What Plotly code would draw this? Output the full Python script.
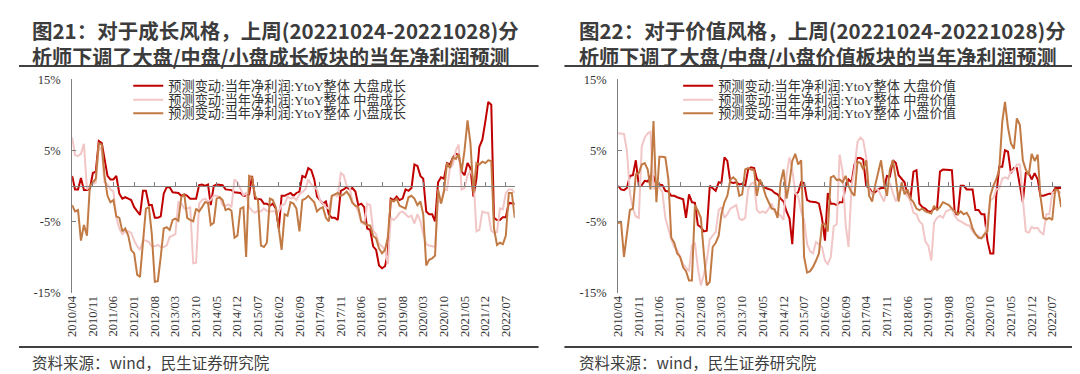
import pandas as pd
import plotly.graph_objects as go

# ---------------- data (monthly readings, 2010/04 .. 2022/10) ----------------
START = "2010-04-01"
N_MONTHS = 151
TICK_LABELS = ["2010/04", "2010/11", "2011/06", "2012/01", "2012/08", "2013/03",
               "2013/10", "2014/05", "2014/12", "2015/07", "2016/02", "2016/09",
               "2017/04", "2017/11", "2018/06", "2019/01", "2019/08", "2020/03",
               "2020/10", "2021/05", "2021/12", "2022/07"]
Y_TICKS = [-15, -5, 5, 15]
Y_TICK_TEXT = ["-15%", "-5%", "5%", "15%"]

growth_large = [
    1.4, -0.5, -0.5, 1.1, -0.6, -0.6, -0.4, 1.8, 2.0, 6.3,
    6.0, 3.6, 1.4, 0.9, 0.9, 1.4, -1.1, -1.8, -1.6, -1.8,
    -2.0, -3.0, -3.6, -4.1, -0.7, -0.7, -2.7, -2.7, -4.5, -4.5,
    -4.3, -1.1, -0.2, -0.2, -0.9, -0.9, -1.0, -1.4, -1.2, -1.4,
    -1.8, -1.8, -1.8, 0.1, 0.2, 0.0, 0.2, -2.7, 0.0, 0.2,
    0.2, 0.1, -0.5, -0.5, -0.6, -0.9, -0.9, -1.0, -1.4, -1.4,
    -1.2, 1.4, -1.8, -1.8, -1.9, -2.5, -2.5, -2.8, -2.5, -3.2,
    -6.0, -1.4, -1.4, -1.2, -1.0, -1.4, -1.0, -0.8, 1.4, 1.2,
    2.5, 2.2, 0.9, -1.5, -2.0, -2.5, -2.2, -4.0, -4.5, -4.5,
    -4.8, -0.7, -0.5, -0.2, -0.5, -0.3, -0.8, -2.7, -2.5, -3.0,
    -6.0, -6.2, -8.5, -9.0, -11.2, -11.6, -11.3, -9.5, -1.8, -2.0,
    -1.5, -2.0, -1.8, -0.5, -0.7, -0.3, 3.0, 2.8, 1.4, 1.0,
    -3.6, -4.0, -4.0, -5.0, 0.5, 1.2, 1.0, 3.2, 3.0, 4.0,
    4.5, 4.4, 2.0, 1.5, 3.2, 2.5, -1.5, 1.0, 5.5, 6.5,
    9.0, 11.8, 11.4, -4.5, -4.8, -4.8, -4.4, -4.4, -2.4, -2.4, -2.5]

growth_mid = [
    6.8, 4.3, 4.2, 4.5, 5.9, -0.5, 0.0, 0.2, 0.5, 5.5,
    5.0, 0.5, 0.2, -0.5, -0.8, -4.5, -6.0, -6.8, -6.4, -6.4,
    -6.6, -7.7, -8.5, -9.0, -7.7, -7.7, -7.9, -8.5, -8.5, -8.3,
    -8.6, -8.6, -8.4, -7.2, -7.0, -6.8, -2.3, -2.5, -3.2, -3.2,
    -3.0, -10.9, -10.8, -2.5, -2.0, -1.8, -2.2, -2.0, -1.4, -1.4,
    -1.6, -2.7, -2.8, -2.6, -3.0, 0.9, 0.5, -0.5, -1.3, -1.0,
    -3.0, -3.5, -3.8, -3.5, -3.6, -3.2, -3.5, -3.6, -3.6, -3.4,
    -3.6, -2.7, -2.6, -1.5, -1.8, -1.6, -2.0, -1.2, -0.9, -0.5,
    0.9, 0.2, -0.2, -0.5, -2.0, -2.5, -3.0, -3.2, -1.4, -1.3,
    -1.5, 1.8, 1.5, 0.0, -0.2, -2.2, -2.8, -3.6, -5.2, -5.4,
    -2.5, -2.7, -6.3, -6.8, -8.2, -8.5, -9.0, -11.0, -4.5, -4.8,
    -4.4, -3.8, -3.6, -4.0, -4.4, -4.2, -5.3, -4.0, -5.0, -6.8,
    -8.2, -8.4, -8.5, -8.6, -2.0, -2.4, -0.5, -0.6, 2.5, 3.0,
    5.0, 5.8, -0.5, -0.3, 1.5, 2.0, 1.2, -6.4, -6.2, -3.6,
    -3.8, -3.8, -6.3, -6.6, -6.5, -3.2, -3.3, -1.0, -0.5, -0.5, -1.0]

growth_small = [
    -2.7, -3.6, -3.4, -7.7, -5.5, -7.0, 0.0, 0.5, 1.0, 6.0,
    5.8, 1.4, -1.4, -2.3, -2.0, -4.3, -4.5, -6.4, -6.0, -7.0,
    -9.0, -9.5, -12.5, -12.8, -7.7, -3.2, -3.0, -6.8, -13.5, -13.4,
    -10.0, -6.0, -5.8, -6.2, -4.8, -4.6, -4.9, -1.6, -1.2, -4.5,
    -4.8, -5.0, -3.2, -3.6, -3.0, -2.3, -2.4, -5.5, -5.2, -1.8,
    -1.6, -2.0, -3.4, -3.2, -3.5, -7.3, -7.0, -3.2, -3.0, -10.0,
    1.4, 1.2, -1.4, -2.0, -8.4, -8.6, -8.0, -1.8, -2.0, -3.0,
    -6.0, -9.0, -4.0, -4.2, -2.3, -2.5, -3.2, -6.4, -2.0, -1.8,
    -1.4, -1.8, -2.3, -3.6, -3.2, -3.0, -4.5, -5.0, -1.4, -1.2,
    -1.0, -1.4, -1.2, -0.8, -1.4, -2.4, -2.8, -3.0, -5.0, -5.2,
    -5.5, -5.6, -7.0, -7.4, -8.8, -9.5, -9.0, -7.3, -2.0, -2.2,
    -1.8, -2.8, -3.0, -3.2, -1.6, -1.4, -1.8, -2.7, -2.2, -4.0,
    -11.2, -10.4, -10.2, -9.8, -0.5, -2.5, -0.8, 3.2, 2.5, 4.0,
    3.8, 4.5, 2.0, 5.0, 9.2, 6.0, -1.0, 3.2, 3.0, 3.4,
    3.2, 3.6, 3.5, -6.0, -8.3, -8.0, -8.2, -7.0, -1.0, -1.0, -4.5]

value_large = [
    0.0, -0.5, -0.6, -0.3, 1.4, 1.5, 3.6, 0.0, 0.1, 0.7,
    0.6, 1.4, 1.3, 0.2, 0.2, 0.1, -0.7, -0.8, -1.4, -1.4,
    -1.6, -1.8, -1.9, -4.5, -1.2, -2.3, -2.4, -5.5, -5.8, -6.4,
    -6.3, 0.0, -0.3, -0.7, 0.5, 0.4, 4.0, 3.5, 0.5, 0.4,
    0.5, 0.2, 0.3, 0.0, 2.3, 2.6, 2.5, 1.0, 0.5, 0.0,
    -0.3, -0.5, -0.6, -1.0, -1.2, -1.8, -2.2, -3.6, -4.6, -8.2,
    -1.2, -0.9, 0.5, 0.4, -2.0, -2.2, -2.2, -2.3, -2.5, -4.5,
    -7.7, -1.0, -2.5, -2.5, -2.7, -2.3, -2.3, 0.0, 0.9, 0.5,
    3.0, 3.9, 3.9, 3.7, 0.0, -0.3, -0.9, -0.9, -0.5, -0.3,
    -0.3, 1.4, 1.3, 3.6, 3.2, 1.5, 1.0, 0.5, -1.4, -1.8,
    2.0, 2.2, -2.5, -3.0, -3.2, -3.6, -3.6, -3.2, -3.2, 2.0,
    2.3, 2.3, 2.3, 2.2, -4.0, -4.0, 0.0, 0.0, -0.5, -0.5,
    -0.5, -3.4, -3.4, -4.0, -4.0, -7.7, -9.5, -9.5, -1.4, 2.7,
    2.7, 5.0, 4.8, 1.8, 2.5, 2.5, 0.0, -2.3, 1.8, 1.8,
    0.9, 1.8, 0.9, -1.4, -1.4, -1.2, -1.1, -1.1, -0.3, -0.3, -0.3]

value_mid = [
    7.4, 7.4, 7.3, 5.0, -1.0, -3.2, -4.3, -4.5, 5.5, 6.8,
    7.4, 7.6, -0.5, 0.3, -0.2, -0.8, -4.5, -6.0, -7.5, -8.6,
    -9.0, -10.0, -11.0, -11.5, -12.0, -8.4, -8.0, -11.5, -14.0, -12.5,
    -10.5, -7.5, -7.0, -6.5, -3.4, -3.0, -4.5, -4.0, -3.2, -3.0,
    -2.7, -4.6, -4.8, -4.5, -0.5, 0.3, 0.5, -3.4, -3.8, -3.6,
    -3.8, -3.2, -2.5, -3.6, -3.8, -4.2, -4.8, 1.5, 4.0, 2.3,
    -1.0, -1.5, -3.6, -4.8, -8.2, -9.2, -9.5, -7.9, -8.3, -8.6,
    -10.5, -11.0, -10.0, -5.7, -5.4, 4.4, 2.0, -5.5, -8.6, 0.0,
    2.3, 6.2, 6.8, 6.4, 4.0, -0.5, -1.2, -0.5, -0.5, -1.4,
    -2.2, -0.5, 0.4, -1.0, -2.2, -1.0, -0.5, -0.6, -1.4, -2.2,
    -3.8, -4.0, -5.0, -5.4, -7.8, -8.4, -10.5, -5.2, -4.5, -4.2,
    -4.5, -3.6, -3.4, -3.2, -4.2, -4.8, -5.0, -5.3, -5.5, -5.6,
    -6.4, -6.8, -7.0, -7.3, -7.2, -5.0, -2.0, -1.8, -0.5, -0.4,
    1.0, 1.2, 1.0, 2.0, 2.2, 3.0, 3.0, -2.0, -6.4, -6.6,
    -5.8, -6.0, -5.9, -6.5, -6.8, -4.0, -4.0, -1.0, -0.8, -0.8, -1.0]

value_small = [
    -5.3, -5.0, -10.0, -6.4, -3.4, -3.2, 1.6, 1.8, 3.0, 3.2,
    2.3, -0.5, 9.1, -2.3, 4.1, 4.1, 4.0, 1.0, -7.3, -8.0,
    -9.5, -10.0, -11.5, -12.0, -13.3, -13.3, -2.7, -3.5, -4.5, -9.5,
    -14.0, -13.5, -8.6, -8.0, -7.0, -4.0, -2.3, -1.4, 0.9, 1.2,
    0.8, -1.4, -1.2, 2.3, 2.5, 2.3, 2.2, -1.4, 0.9, 0.0,
    -1.4, -2.3, -3.2, -3.3, -4.5, 0.5, 2.3, -1.8, 0.5, 3.5,
    4.5, 3.0, 3.6, -10.0, -12.2, -12.0, -11.4, -10.5, -9.5, -5.5,
    -5.3, -6.4, 1.2, 1.4, 0.8, 0.9, 0.5, 1.4, 0.0, -0.9,
    -1.4, 3.4, 3.2, 2.3, 3.6, -1.4, -2.2, 0.0, 1.8, 3.6,
    0.5, -1.4, 2.3, 3.6, 0.9, -2.2, 0.5, -1.2, -0.5, -1.8,
    -2.3, -3.2, -3.4, -3.2, -3.6, -3.8, -3.9, -2.8, -3.4, -3.0,
    -2.3, -2.5, -2.7, -3.2, -3.6, -4.0, -3.6, -4.0, -3.8, -4.5,
    -6.0, -6.8, -7.3, -7.4, -6.8, -6.4, -1.4, 0.0, 0.9, 2.3,
    9.0, 11.8, 8.2, 6.0, 5.2, 9.5, 8.6, 3.6, 2.3, 1.5,
    4.5, 3.5, 4.4, -1.4, -4.5, -4.7, -4.5, -4.8, -0.5, -0.6, -3.0]

PREFIX = "预测变动:当年净利润:YtoY整体 "
GROWTH_NAMES = ["大盘成长", "中盘成长", "小盘成长"]
VALUE_NAMES = ["大盘价值", "中盘价值", "小盘价值"]
COLORS = ["#C00000", "#F2C6C6", "#C27A44"]

TITLES = [
    ("图21：对于成长风格，上周(20221024-20221028)分",
     "析师下调了大盘/中盘/小盘成长板块的当年净利润预测"),
    ("图22：对于价值风格，上周(20221024-20221028)分",
     "析师下调了大盘/中盘/小盘价值板块的当年净利润预测"),
]
SOURCE = "资料来源：wind，民生证券研究院"

# ---------------- figure ----------------
W, H = 1080, 374
dates = pd.date_range(START, periods=N_MONTHS, freq="MS")
tickvals = [pd.Timestamp(t.replace("/", "-") + "-01") for t in TICK_LABELS]
xrange_ = [dates[0], dates[-1]]


def px(x):
    return x / W


def py(y):
    return 1 - y / H


y_dom = [py(288.3), py(66.7)]
zero_p = (y_dom[0] + y_dom[1]) / 2
x_doms = [[px(57.5), px(503)], [px(607), px(1053)]]

SERIF = "Liberation Serif, Noto Serif, Noto Sans CJK SC, serif"
SANS = "Noto Sans CJK SC, Noto Sans, sans-serif"
AX = "#808080"
LEGEND_ROWS_Y = [74, 88.4, 102.6]
LEGEND_X = [114, 667.5]

fig = go.Figure()

panels = [
    ([growth_large, growth_mid, growth_small], GROWTH_NAMES, "x", "y", "x3"),
    ([value_large, value_mid, value_small], VALUE_NAMES, "x2", "y2", "x4"),
]
legend_layout = {}
leg_idx = 0
for p, (series, names, xa, ya, xtick) in enumerate(panels):
    for r, (vals, nm, col) in enumerate(zip(series, names, COLORS)):
        leg_idx += 1
        leg = "legend" if leg_idx == 1 else "legend%d" % leg_idx
        fig.add_trace(go.Scatter(
            x=dates, y=vals, name=PREFIX + nm, mode="lines",
            line=dict(color=col, width=2), xaxis=xa, yaxis=ya, legend=leg,
            hoverinfo="skip"))
        legend_layout[leg] = dict(
            x=px(LEGEND_X[p]), y=py(LEGEND_ROWS_Y[r]), xanchor="left", yanchor="middle",
            bgcolor="rgba(0,0,0,0)", borderwidth=0,
            font=dict(family=SERIF, size=13.2, color="#333333"))
    # invisible helper so the tick axis on the zero line is drawn
    fig.add_trace(go.Scatter(
        x=dates, y=[0] * N_MONTHS, mode="lines", line=dict(width=0),
        opacity=0, xaxis=xtick, yaxis=ya, showlegend=False, hoverinfo="skip"))

layout = dict(
    width=W, height=H, margin=dict(l=0, r=0, t=0, b=0),
    paper_bgcolor="white", plot_bgcolor="white", showlegend=True,
)
layout.update(legend_layout)
for i, (xa, ya, xt) in enumerate([("xaxis", "yaxis", "xaxis3"), ("xaxis2", "yaxis2", "xaxis4")]):
    xname = "x" if i == 0 else "x2"
    yname = "y" if i == 0 else "y2"
    layout[xa] = dict(
        domain=x_doms[i], anchor=yname, type="date", range=xrange_,
        tickmode="array", tickvals=tickvals, ticktext=TICK_LABELS,
        tickangle=-90, ticks="", showline=False, showgrid=False, zeroline=False,
        tickfont=dict(family=SERIF, size=12.5, color="#333333"))
    layout[xt] = dict(
        overlaying=xname, anchor="free", position=zero_p, type="date",
        range=xrange_, tickmode="array", tickvals=tickvals,
        showticklabels=False, ticks="inside", ticklen=4, tickcolor=AX,
        showline=True, linecolor=AX, linewidth=1.3, showgrid=False, zeroline=False)
    layout[ya] = dict(
        domain=y_dom, anchor=xname, range=[-15, 15],
        tickmode="array", tickvals=Y_TICKS, ticktext=Y_TICK_TEXT,
        ticks="inside", ticklen=4, tickcolor=AX, showline=True, linecolor=AX,
        linewidth=1, showgrid=False, zeroline=False, ticklabelstandoff=8,
        tickfont=dict(family=SERIF, size=12.5, color="#333333"))
fig.update_layout(**layout)

# titles, source, separators
for i, (l1, l2) in enumerate(TITLES):
    x0 = 15.5 if i == 0 else 566
    title_txt = ("<b><span style='font-size:20.5px'>" + l1 + "</span><br>"
                 "<span style='font-size:20.1px'>" + l2 + "</span></b>")
    fig.add_annotation(text=title_txt, x=px(x0), y=py(29), xref="paper", yref="paper",
                       xanchor="left", yanchor="middle", align="left", showarrow=False,
                       font=dict(family=SANS, size=20.2, color="#3c3c3c"))
    fig.add_annotation(text=SOURCE, x=px(x0), y=py(361), xref="paper", yref="paper",
                       xanchor="left", yanchor="middle", align="left", showarrow=False,
                       font=dict(family=SANS, size=15.5, color="#404040"))
    xa, xb = (4, 527) if i == 0 else (553, 1077)
    for yline in (53, 345):
        fig.add_shape(type="line", xref="paper", yref="paper",
                      x0=px(xa), x1=px(xb), y0=py(yline), y1=py(yline),
                      line=dict(color="#404040", width=2))

fig.write_html("out.html")
